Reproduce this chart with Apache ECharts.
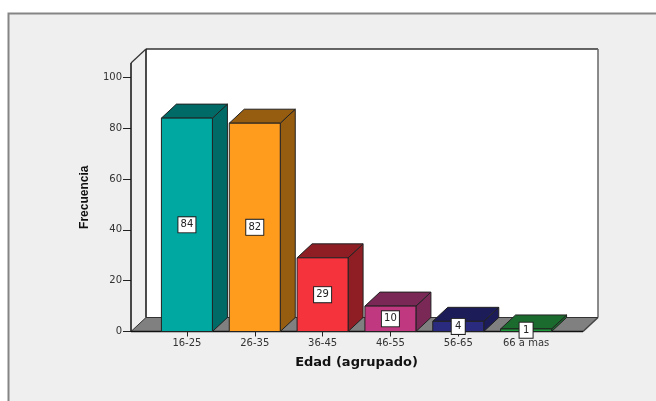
<!DOCTYPE html>
<html><head><meta charset="utf-8">
<style>html,body{margin:0;padding:0;background:#fff}#c{width:656px;height:401px}</style>
<script src="https://cdn.jsdelivr.net/npm/echarts@6/dist/echarts.min.js"></script>
</head><body><div id="c"></div>
<script>
const categories = ['16-25','26-35','36-45','46-55','56-65','66 a mas'];
const values = [84,82,29,10,4,1];
const frontColors = ['#00a8a2','#ff9c1e','#f5333d','#c0387f','#2a2a7e','#1f9a3a'];
const sideColors = ['#006a66','#965c10','#8e1e24','#7a2856','#1c1c58','#1b6b2e'];
const yTicks = [0,20,40,60,80,100];
const DX = 15, DY = 14, BAR_W = 51;
const chart = echarts.init(document.getElementById('c'));
function poly(points, fill, stroke, w){
  return {type:'polygon',shape:{points},style:{fill,stroke:stroke||'#222',lineWidth:w==null?1:w}};
}
function line(x1,y1,x2,y2,stroke,w){
  return {type:'line',shape:{x1,y1,x2,y2},style:{stroke,lineWidth:w||1.5}};
}
chart.setOption({
  animation:false,
  backgroundColor:'#ffffff',
  graphic:[{type:'rect',z:-10,silent:true,shape:{x:8.5,y:13.5,width:700,height:450},
    style:{fill:'#efefef',stroke:'#858585',lineWidth:2}}],
  grid:{left:153,top:63,width:407,height:268.5},
  xAxis:{type:'category',data:categories,
    name:'Edad (agrupado)',nameLocation:'middle',nameGap:25,
    nameTextStyle:{fontFamily:'DejaVu Sans',fontWeight:'bold',fontSize:13,color:'#111'},
    axisLine:{show:false},
    axisTick:{show:true,alignWithLabel:true,length:5,lineStyle:{color:'#222',width:1}},
    axisLabel:{interval:0,margin:7,fontFamily:'DejaVu Sans',fontSize:10,color:'#333'},
    z:3},
  yAxis:{type:'value',min:0,max:105.7,offset:22,
    name:'Frecuencia',nameLocation:'middle',nameGap:40,
    nameTextStyle:{fontFamily:'Liberation Sans Narrow, Liberation Sans',fontWeight:'bold',fontSize:12,color:'#111'},
    splitLine:{show:false},
    axisLine:{show:false},
    axisTick:{show:true,length:8,customValues:yTicks,lineStyle:{color:'#222',width:1}},
    axisLabel:{margin:9,customValues:yTicks,fontFamily:'DejaVu Sans',fontSize:10,color:'#333'}},
  series:[
    {type:'custom',z:1,silent:true,data:[0],encode:{x:[],y:[]},
     renderItem(params,api){
       const cs=params.coordSys;
       const L=cs.x-22, R=cs.x+cs.width+23, T=cs.y, B=cs.y+cs.height;
       return {type:'group',children:[
         poly([[L+DX,T-DY],[R+DX,T-DY],[R+DX,B-DY],[L+DX,B-DY]],'#ffffff','none',0),
         poly([[L,B],[L+DX,B-DY],[R+DX,B-DY],[R,B]],'#808080','none',0),
         line(L+DX,T-DY,R+DX,T-DY,'#333',1.5),
         line(R+DX,T-DY,R+DX,B-DY,'#666',1.5),
         line(R+DX,B-DY,R,B,'#444',1.5),
         line(L+DX,T-DY,L+DX,B-DY,'#111',1.5),
         line(L+DX,B-DY,R+DX,B-DY,'#333',1),
         line(L,T,L+DX,T-DY,'#333',1.2),
         line(L,T,L,B,'#111',1.5),
         line(L,B,L+DX,B-DY,'#333',1),
         line(L,B,R,B,'#111',1.5)
       ]};
     }},
    {type:'custom',z:2,data:values.map((v,i)=>[i,v]),encode:{x:0,y:1},
     renderItem(params,api){
       const i=api.value(0), p=api.coord([i,api.value(1)]), b=api.coord([i,0]);
       const l=p[0]-BAR_W/2, r=p[0]+BAR_W/2, t=p[1], bt=b[1];
       return {type:'group',children:[
         poly([[r,t],[r+DX,t-DY],[r+DX,bt-DY],[r,bt]],sideColors[i]),
         poly([[l,t],[l+DX,t-DY],[r+DX,t-DY],[r,t]],sideColors[i]),
         {type:'rect',shape:{x:l,y:t,width:BAR_W,height:bt-t},
          style:{fill:frontColors[i],stroke:'#222',lineWidth:1}}
       ]};
     }},
    {type:'custom',z:4,data:values.map((v,i)=>[i,v]),encode:{x:0,y:1},
     renderItem(params,api){
       const i=api.value(0), v=api.value(1), c=api.coord([i,v/2]);
       return {type:'text',x:c[0],y:c[1],z2:10,style:{
         text:String(v),fontFamily:'DejaVu Sans',fontSize:10,fill:'#222',
         align:'center',verticalAlign:'middle',
         backgroundColor:'#fff',borderColor:'#222',borderWidth:1,
         padding:[3,2,2,2],width:v<10?9:13}};
     }}
  ]
});
</script></body></html>
